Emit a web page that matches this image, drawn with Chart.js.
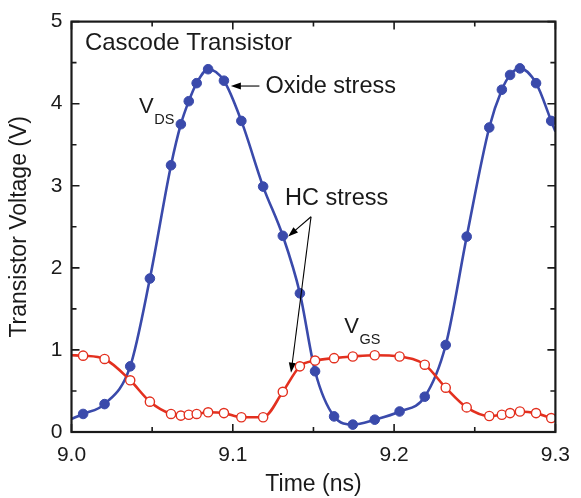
<!DOCTYPE html>
<html>
<head>
<meta charset="utf-8">
<script src="https://cdn.jsdelivr.net/npm/chart.js@4.4.1/dist/chart.umd.min.js"></script>
<style>
  html, body { margin: 0; padding: 0; background: #ffffff; }
  #wrap { width: 581px; height: 498px; }
</style>
</head>
<body>
<div id="wrap"><canvas id="grafico" width="581" height="498"></canvas></div>
<script>
// sample times (ns); first and last entries are the curve ends at the frame, without marker
const timeNs = [9.000, 9.0072, 9.0205, 9.0364, 9.0486, 9.0617, 9.0678, 9.0727, 9.0776, 9.0847,
  9.0945, 9.1053, 9.1188, 9.1310, 9.1416, 9.1510, 9.1628, 9.1744, 9.1880, 9.2034,
  9.2190, 9.2320, 9.2450, 9.2590, 9.2668, 9.2719, 9.2780, 9.2880, 9.2974, 9.300];
const vdsVolts = [0.16, 0.22, 0.34, 0.80, 1.87, 3.25, 3.75, 4.03, 4.25, 4.42,
  4.28, 3.79, 2.99, 2.39, 1.69, 0.74, 0.19, 0.09, 0.15, 0.25,
  0.43, 1.06, 2.38, 3.71, 4.17, 4.35, 4.43, 4.25, 3.79, 3.66];
const vgsVolts = [0.935, 0.93, 0.89, 0.63, 0.37, 0.22, 0.20, 0.21, 0.22, 0.24,
  0.23, 0.18, 0.18, 0.49, 0.80, 0.87, 0.90, 0.92, 0.935, 0.92,
  0.82, 0.54, 0.30, 0.195, 0.21, 0.23, 0.25, 0.23, 0.17, 0.16];
const xTickValues = [9.0, 9.1, 9.2, 9.3];
const xMinorValues = [9.05, 9.15, 9.25];
const yTickValues = [0, 1, 2, 3, 4, 5];
const yMinorValues = [0.5, 1.5, 2.5, 3.5, 4.5];

const fonte = '"Liberation Sans", Arial, Helvetica, sans-serif';
const azul = '#3a4aab';
const vermelho = '#e3301f';
const tinta = '#1a1a1a';

function toPoints(values) {
  return timeNs.map((t, i) => ({ x: t, y: values[i] }));
}

function markerRadius(r) {
  return timeNs.map((t, i) => (i === 0 || i === timeNs.length - 1) ? 0 : r);
}

function drawArrow(ctx, x1, y1, x2, y2) {
  const ang = Math.atan2(y2 - y1, x2 - x1);
  const len = 10, w = 3.5;
  ctx.beginPath();
  ctx.moveTo(x1, y1);
  ctx.lineTo(x2 - Math.cos(ang) * len * 0.7, y2 - Math.sin(ang) * len * 0.7);
  ctx.stroke();
  ctx.beginPath();
  ctx.moveTo(x2, y2);
  ctx.lineTo(x2 - len * Math.cos(ang) + w * Math.sin(ang), y2 - len * Math.sin(ang) - w * Math.cos(ang));
  ctx.lineTo(x2 - len * Math.cos(ang) - w * Math.sin(ang), y2 - len * Math.sin(ang) + w * Math.cos(ang));
  ctx.closePath();
  ctx.fill();
}

function labelWithSub(ctx, x, y, main, sub) {
  ctx.font = '22px ' + fonte;
  ctx.textBaseline = 'alphabetic';
  ctx.textAlign = 'left';
  ctx.fillText(main, x, y);
  const w = ctx.measureText(main).width;
  ctx.font = '14.5px ' + fonte;
  ctx.fillText(sub, x + w + 0.5, y + 11);
}

const framePlugin = {
  id: 'frameAndNotes',
  afterDraw(chart) {
    const { ctx, chartArea: a, scales } = chart;
    const sx = scales.x, sy = scales.y;
    ctx.save();
    ctx.strokeStyle = tinta;
    ctx.lineWidth = 1.6;
    xTickValues.concat(xMinorValues).forEach(v => {
      const px = sx.getPixelForValue(v);
      const len = xTickValues.includes(v) ? 8 : 5;
      ctx.beginPath();
      ctx.moveTo(px, a.bottom); ctx.lineTo(px, a.bottom - len);
      ctx.moveTo(px, a.top); ctx.lineTo(px, a.top + len);
      ctx.stroke();
    });
    yTickValues.concat(yMinorValues).forEach(v => {
      const py = sy.getPixelForValue(v);
      const len = yTickValues.includes(v) ? 8 : 5;
      ctx.beginPath();
      ctx.moveTo(a.left, py); ctx.lineTo(a.left + len, py);
      ctx.moveTo(a.right, py); ctx.lineTo(a.right - len, py);
      ctx.stroke();
    });
    ctx.lineWidth = 2.2;
    ctx.strokeRect(a.left, a.top, a.right - a.left, a.bottom - a.top);

    ctx.fillStyle = tinta;
    ctx.textAlign = 'left';
    ctx.textBaseline = 'middle';
    ctx.font = '24px ' + fonte;
    ctx.fillText('Cascode Transistor', sx.getPixelForValue(9.0083), sy.getPixelForValue(4.73));
    ctx.font = '23.5px ' + fonte;
    ctx.fillText('Oxide stress', sx.getPixelForValue(9.1202), sy.getPixelForValue(4.21));
    ctx.fillText('HC stress', sx.getPixelForValue(9.1324), sy.getPixelForValue(2.85));

    labelWithSub(ctx, sx.getPixelForValue(9.0419), sy.getPixelForValue(3.885), 'V', 'DS');
    labelWithSub(ctx, sx.getPixelForValue(9.1691), sy.getPixelForValue(1.203), 'V', 'GS');

    ctx.lineWidth = 1.1;
    ctx.strokeStyle = '#000';
    ctx.fillStyle = '#000';
    drawArrow(ctx, sx.getPixelForValue(9.1165), sy.getPixelForValue(4.215),
      sx.getPixelForValue(9.0988), sy.getPixelForValue(4.215));
    drawArrow(ctx, sx.getPixelForValue(9.1485), sy.getPixelForValue(2.622),
      sx.getPixelForValue(9.1343), sy.getPixelForValue(2.383));
    drawArrow(ctx, sx.getPixelForValue(9.1485), sy.getPixelForValue(2.622),
      sx.getPixelForValue(9.1361), sy.getPixelForValue(0.723));
    ctx.restore();
  }
};

const ctx = document.getElementById('grafico').getContext('2d');
new Chart(ctx, {
  type: 'line',
  data: {
    datasets: [
      {
        label: 'VGS',
        data: toPoints(vgsVolts),
        borderColor: vermelho,
        borderWidth: 2.6,
        cubicInterpolationMode: 'monotone',
        pointRadius: markerRadius(4.6),
        pointBackgroundColor: '#ffffff',
        pointBorderColor: vermelho,
        pointBorderWidth: 1.4
      },
      {
        label: 'VDS',
        data: toPoints(vdsVolts),
        borderColor: azul,
        borderWidth: 2.6,
        cubicInterpolationMode: 'monotone',
        pointRadius: markerRadius(4.8),
        pointBackgroundColor: azul,
        pointBorderColor: azul,
        pointBorderWidth: 1
      }
    ]
  },
  options: {
    responsive: false,
    animation: false,
    devicePixelRatio: 1,
    layout: { padding: { top: 15, right: 19, left: 0, bottom: 0 } },
    scales: {
      x: {
        type: 'linear',
        min: 9.0,
        max: 9.3,
        afterBuildTicks: scale => { scale.ticks = xTickValues.map(v => ({ value: v })); },
        afterFit: scale => { scale.height = 66; },
        grid: { display: false, drawTicks: false },
        border: { display: false },
        ticks: {
          padding: 11,
          color: tinta,
          font: { family: fonte, size: 21 },
          maxRotation: 0,
          callback: v => Number(v).toFixed(1)
        },
        title: {
          display: true,
          text: 'Time (ns)',
          color: tinta,
          font: { family: fonte, size: 23 },
          padding: { top: 0, bottom: 0 }
        }
      },
      y: {
        min: 0,
        max: 5,
        afterBuildTicks: scale => { scale.ticks = yTickValues.map(v => ({ value: v })); },
        afterFit: scale => { scale.width = 71.5; },
        grid: { display: false, drawTicks: false },
        border: { display: false },
        ticks: {
          padding: 9,
          color: tinta,
          font: { family: fonte, size: 21 },
          callback: v => String(v)
        },
        title: {
          display: true,
          text: 'Transistor Voltage (V)',
          color: tinta,
          font: { family: fonte, size: 23 },
          padding: { top: 6, bottom: 0 }
        }
      }
    },
    plugins: {
      legend: { display: false },
      tooltip: { enabled: false }
    }
  },
  plugins: [framePlugin]
});
</script>
</body>
</html>
